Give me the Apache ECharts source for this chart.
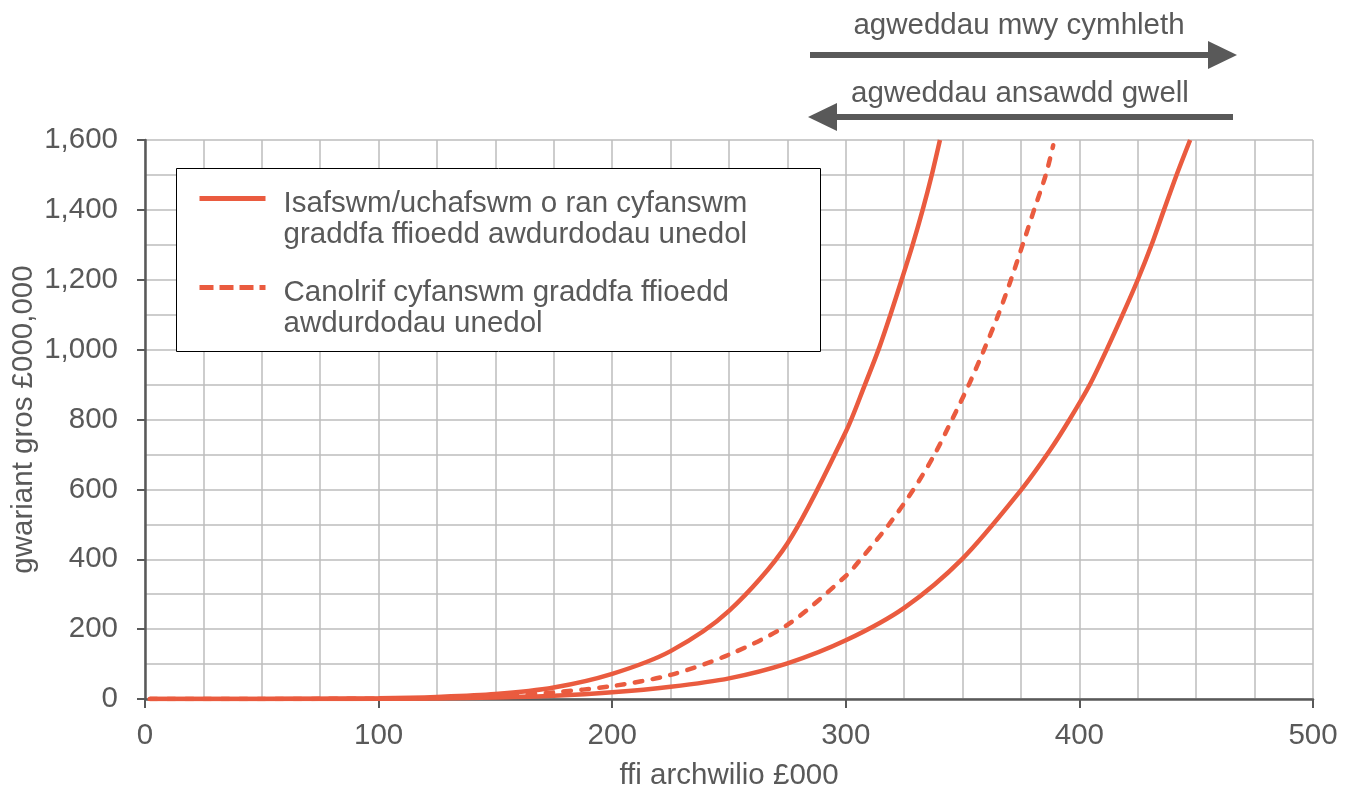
<!DOCTYPE html>
<html>
<head>
<meta charset="utf-8">
<script src="https://cdn.jsdelivr.net/npm/echarts@6/dist/echarts.min.js"></script>
<style>
  html, body { margin: 0; padding: 0; background: #ffffff; }
  #chart { width: 1354px; height: 789px; }
</style>
</head>
<body>
<div id="chart"></div>
<script>
// ---- data ----
const xTicks = [0, 100, 200, 300, 400, 500];
const yTicks = [0, 200, 400, 600, 800, 1000, 1200, 1400, 1600];

const upperX = [2, 25, 50, 75, 100, 125, 150, 175, 200, 225, 250, 275, 300, 308.2, 314, 319.1, 323.9, 328.6, 332.9, 336.8, 340.3];
const upperY = [0, 0.1, 0.3, 0.8, 2, 6, 14, 33, 72, 137, 252, 445, 765, 900, 1000, 1100, 1200, 1300, 1400, 1500, 1600];

const lowerX = [2, 25, 50, 75, 100, 125, 150, 175, 200, 225, 250, 275, 300, 325, 350, 375, 387.4, 395.8, 404.5, 411.7, 418.5, 425, 430.9, 436.2, 441.6, 447.4];
const lowerY = [0, 0, 0.1, 0.2, 0.5, 1.5, 4, 9, 19, 35, 59, 102, 168, 261, 402, 598, 712, 800, 900, 1000, 1100, 1200, 1300, 1400, 1500, 1600];

const medianX = [2, 25, 50, 75, 100, 125, 150, 175, 200, 225, 250, 275, 300, 305.4, 318.5, 329, 338, 345.5, 352.7, 359.2, 365.3, 370.7, 375.7, 380.6, 385.6, 388.8];
const medianY = [0, 0, 0.2, 0.4, 1, 3, 8, 19, 37, 69, 127, 212, 352, 392, 500, 600, 700, 800, 900, 1000, 1100, 1200, 1300, 1400, 1500, 1585];

const nameRange = 'Isafswm/uchafswm o ran cyfanswm\ngraddfa ffioedd awdurdodau unedol';
const nameMedian = 'Canolrif cyfanswm graddfa ffioedd\nawdurdodau unedol';
const xAxisTitle = 'ffi archwilio £000';
const yAxisTitle = 'gwariant gros £000,000';
const arrowTopText = 'agweddau mwy cymhleth';
const arrowBottomText = 'agweddau ansawdd gwell';

// ---- styling ----
const FONT = '"Liberation Sans", Arial, sans-serif';
const FS = 29.5;
const TXT = '#595959';
const AX = '#595959';
const GRID = '#bdbdbd';
const RED = '#EA5B3F';
const DASH = [7.5, 10.5];
const SMOOTH = 0.3;

const pairs = (xs, ys) => xs.map((x, i) => [x, ys[i]]);

const chart = echarts.init(document.getElementById('chart'), null, { renderer: 'canvas' });

const gridLine = { show: true, lineStyle: { color: GRID, width: 1.5 } };

function legendFor(name, top, lineStyle) {
  return {
    orient: 'vertical',
    left: 197, top: top,
    padding: 0,
    itemGap: 0,
    itemWidth: 66, itemHeight: 14,
    selectedMode: false,
    data: [name],
    itemStyle: { opacity: 0 },
    lineStyle: lineStyle,
    formatter: n => '{s| }\n' + n.split('\n').map(l => '{t|' + l + '}').join('\n'),
    textStyle: {
      padding: [0, 0, 0, 13],
      rich: {
        s: { fontSize: 10, lineHeight: 41 },
        t: { fontSize: FS, lineHeight: 31, color: TXT, fontFamily: FONT }
      }
    }
  };
}

chart.setOption({
  animation: false,
  backgroundColor: '#ffffff',
  textStyle: { fontFamily: FONT },
  grid: { left: 145, right: 41, top: 140, bottom: 90, containLabel: false, outerBoundsMode: 'none' },
  xAxis: {
    type: 'value',
    min: xTicks[0], max: xTicks[xTicks.length - 1], interval: 100,
    name: xAxisTitle, nameLocation: 'middle', nameGap: 62,
    nameTextStyle: { color: TXT, fontSize: FS, fontFamily: FONT },
    axisLine: { show: true, lineStyle: { color: AX, width: 2.5 } },
    axisTick: { show: true, length: 9, lineStyle: { color: AX, width: 2 } },
    axisLabel: { color: TXT, fontSize: FS, fontFamily: FONT, margin: 22 },
    splitLine: gridLine,
    minorTick: { show: false, splitNumber: 4 },
    minorSplitLine: gridLine
  },
  yAxis: {
    type: 'value',
    min: yTicks[0], max: yTicks[yTicks.length - 1], interval: 200,
    name: yAxisTitle, nameLocation: 'middle', nameGap: 106, nameMoveOverlap: false,
    nameTextStyle: { color: TXT, fontSize: FS, fontFamily: FONT },
    axisLine: { show: true, lineStyle: { color: AX, width: 2.5 } },
    axisTick: { show: true, length: 8, lineStyle: { color: AX, width: 2 } },
    axisLabel: { color: TXT, fontSize: FS, fontFamily: FONT, margin: 27 },
    splitLine: gridLine,
    minorTick: { show: false, splitNumber: 2 },
    minorSplitLine: gridLine
  },
  legend: [
    legendFor(nameRange, 162.5, { width: 5 }),
    legendFor(nameMedian, 251.5, { width: 5, type: [14, 6], cap: 'butt' })
  ],
  graphic: [
    { type: 'rect', z: 3, shape: { x: 176.5, y: 168.5, width: 644, height: 183 },
      style: { fill: '#ffffff', stroke: '#000000', lineWidth: 1 } },
    { type: 'line', shape: { x1: 810, y1: 55, x2: 1212, y2: 55 }, style: { stroke: AX, lineWidth: 6 } },
    { type: 'polygon', shape: { points: [[1208, 41], [1237, 55], [1208, 69]] }, style: { fill: AX } },
    { type: 'line', shape: { x1: 834, y1: 117, x2: 1233, y2: 117 }, style: { stroke: AX, lineWidth: 6 } },
    { type: 'polygon', shape: { points: [[837, 103], [808, 117], [837, 131]] }, style: { fill: AX } },
    { type: 'text', x: 1019, y: 26, style: { text: arrowTopText, fill: TXT, font: FS + 'px ' + FONT, textAlign: 'center', textVerticalAlign: 'middle' } },
    { type: 'text', x: 1020, y: 94, style: { text: arrowBottomText, fill: TXT, font: FS + 'px ' + FONT, textAlign: 'center', textVerticalAlign: 'middle' } }
  ],
  series: [
    { name: nameRange, type: 'line', data: pairs(upperX, upperY), symbol: 'none', smooth: SMOOTH,
      lineStyle: { color: RED, width: 4.5 }, itemStyle: { color: RED } },
    { name: nameRange, type: 'line', data: pairs(lowerX, lowerY), symbol: 'none', smooth: SMOOTH,
      lineStyle: { color: RED, width: 4.5 }, itemStyle: { color: RED } },
    { name: nameMedian, type: 'line', data: pairs(medianX, medianY), symbol: 'none', smooth: SMOOTH,
      lineStyle: { color: RED, width: 4.5, type: DASH, cap: 'round' }, itemStyle: { color: RED } }
  ]
});
</script>
</body>
</html>
